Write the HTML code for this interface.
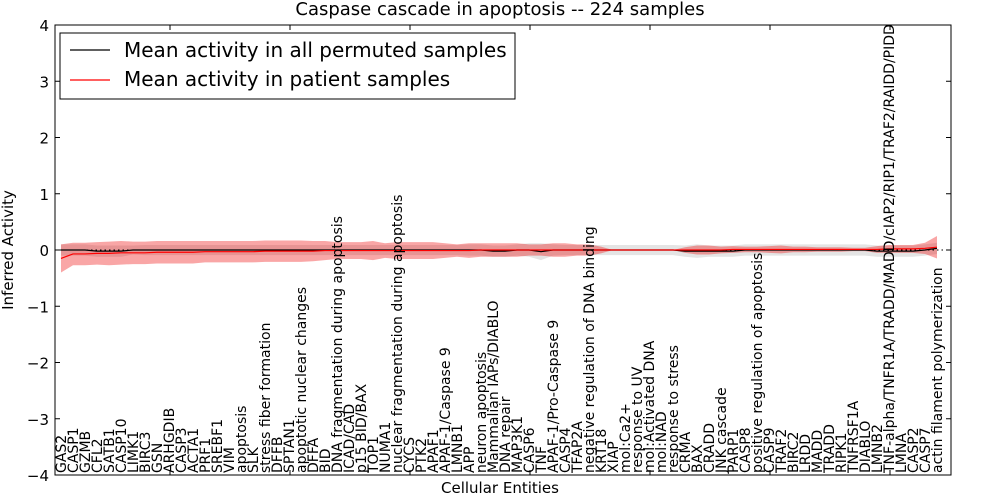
<!DOCTYPE html>
<html><head><meta charset="utf-8"><style>
body{margin:0;background:#fff}
svg{display:block;font-family:"DejaVu Sans","Liberation Sans",sans-serif}
</style></head><body>
<svg id="chart" width="1000" height="500" viewBox="0 0 1000 500">
<rect width="1000" height="500" fill="#fff"/>
<text x="500" y="15" font-size="18" text-anchor="middle">Caspase cascade in apoptosis -- 224 samples</text>
<g id="bands"></g>
<g id="lines"></g>
<g id="axes"></g>
<g id="xlabels"></g>
<text x="500" y="493" font-size="15" text-anchor="middle">Cellular Entities</text>
<text transform="translate(13,250) rotate(-90)" font-size="15" text-anchor="middle">Inferred Activity</text>
<g>
<rect x="60" y="33" width="455" height="66" fill="#fff" stroke="#000" stroke-width="1"/>
<line x1="70" y1="50" x2="110" y2="50" stroke="#000" stroke-width="1.2"/>
<text x="124" y="57" font-size="20">Mean activity in all permuted samples</text>
<line x1="70" y1="80" x2="110" y2="80" stroke="#f00" stroke-width="1.2"/>
<text x="124" y="86" font-size="20">Mean activity in patient samples</text>
</g>
</svg>
<script>
const categories=["GAS2","CASP1","GZMB","CFL2","SATB1","CASP10","LIMK1","BIRC3","GSN","ARHGDIB","CASP3","ACTA1","PRF1","SREBF1","VIM","apoptosis","SLK","stress fiber formation","DFFB","SPTAN1","apoptotic nuclear changes","DFFA","BID","DNA fragmentation during apoptosis","ICAD/CAD","p15 BID/BAX","TOP1","NUMA1","nuclear fragmentation during apoptosis","CYCS","PTK2","APAF1","APAF-1/Caspase 9","LMNB1","APP","neuron apoptosis","Mammalian IAPs/DIABLO","DNA repair","MAP3K1","CASP6","TNF","APAF-1/Pro-Caspase 9","CASP4","TFAP2A","negative regulation of DNA binding","KRT18","XIAP","mol:Ca2+","response to UV","mol:Activated DNA","mol:NAD","response to stress","CRMA","BAX","CRADD","JNK cascade","PARP1","CASP8","positive regulation of apoptosis","CASP9","TRAF2","BIRC2","LRDD","MADD","TRADD","RIPK1","TNFRSF1A","DIABLO","LMNB2","TNF-alpha/TNFR1A/TRADD/MADD/cIAP2/RIP1/TRAF2/RAIDD/PIDD","LMNA","CASP2","CASP7","actin filament polymerization"];
const patientMean=[-0.15,-0.07,-0.07,-0.06,-0.06,-0.05,-0.05,-0.05,-0.04,-0.04,-0.04,-0.04,-0.03,-0.03,-0.03,-0.03,-0.03,-0.02,-0.02,-0.02,-0.02,-0.02,-0.01,-0.01,-0.01,-0.01,-0.01,-0.01,-0.01,-0.01,-0.01,-0.01,-0.01,-0.01,-0.01,0,0,0,0,0,0,0,0,0,0,0,0,0,0,0,0,0,0,0,0,0,0.01,0.01,0.01,0.01,0.01,0.01,0.01,0.01,0.01,0.01,0.01,0.01,0.01,0.02,0.02,0.02,0.03,0.05];
const patientSpread=[0.25,0.2,0.2,0.2,0.21,0.21,0.2,0.2,0.2,0.2,0.2,0.2,0.19,0.19,0.19,0.19,0.19,0.19,0.19,0.19,0.19,0.18,0.17,0.15,0.15,0.15,0.17,0.13,0.15,0.15,0.15,0.15,0.13,0.11,0.13,0.12,0.12,0.12,0.12,0.1,0.1,0.12,0.12,0.1,0.1,0.06,0,0,0,0,0,0,0.05,0.08,0.08,0.06,0.06,0.05,0.05,0.06,0.07,0.05,0.05,0.04,0.04,0.04,0.03,0.03,0.06,0.07,0.07,0.07,0.1,0.2];
const permutedMean=[0,0,0,-0.02,-0.02,-0.02,0,0,0,0,0,0,0,0,0,0,0,0,0,0,0,0,0,0,0,0,0,0,0,0,0,0,0,0,0,0,-0.02,-0.02,0,0,-0.03,0,0,0,0,0,0,0,0,0,0,0,-0.02,-0.02,-0.02,-0.02,-0.02,0,0,0,0,0,0,0,0,0,0,0,-0.02,-0.02,-0.02,-0.02,0,0.03];
const permutedSpread=[0.1,0.1,0.1,0.1,0.1,0.1,0.08,0.09,0.09,0.09,0.09,0.09,0.09,0.09,0.09,0.09,0.09,0.09,0.09,0.09,0.09,0.09,0.09,0.09,0.09,0.09,0.09,0.09,0.09,0.09,0.09,0.09,0.09,0.09,0.1,0.1,0.1,0.1,0.1,0.12,0.15,0.1,0.09,0.09,0.09,0.09,0.09,0.09,0.09,0.09,0.09,0.09,0.1,0.12,0.1,0.1,0.1,0.1,0.1,0.1,0.1,0.1,0.1,0.1,0.1,0.1,0.1,0.1,0.1,0.1,0.1,0.1,0.1,0.1];
const yTicks=[-4,-3,-2,-1,0,1,2,3,4];
const L=55,R=951,T=25,B=475;
const xs=i=>61+(i/(categories.length-1))*(937-61);
const ys=v=>T+(4-v)*(B-T)/8;
const NS="http://www.w3.org/2000/svg";
function mk(tag,attrs,parent){const e=document.createElementNS(NS,tag);for(const k in attrs)e.setAttribute(k,attrs[k]);parent.appendChild(e);return e;}
function band(mean,sp){let up=mean.map((m,i)=>xs(i)+","+ys(m+sp[i]));let dn=mean.map((m,i)=>xs(i)+","+ys(m-sp[i])).reverse();return up.concat(dn).join(" ");}
function line(mean){return mean.map((m,i)=>xs(i)+","+ys(m)).join(" ");}
const bands=document.getElementById('bands');
const gb=mk('polygon',{points:band(permutedMean,permutedSpread),fill:'#bbb','fill-opacity':'0.4'},bands);


const rb=mk('polygon',{points:band(patientMean,patientSpread),fill:'#e00','fill-opacity':'0.35'},bands);


const lines=document.getElementById('lines');
const zl=mk('line',{x1:L,x2:R,y1:ys(0),y2:ys(0),stroke:'#000','stroke-dasharray':'1.5,3','stroke-width':1},lines);


const bl=mk('polyline',{points:line(permutedMean),fill:'none',stroke:'#000','stroke-width':1.2},lines);


const rl=mk('polyline',{points:line(patientMean),fill:'none',stroke:'#f00','stroke-width':1.2},lines);


const axes=document.getElementById('axes');
const fr=mk('rect',{x:L,y:T,width:R-L,height:B-T,fill:'none',stroke:'#000','stroke-width':1},axes);


yTicks.forEach(v=>{const y=ys(v);
mk('line',{x1:L,x2:L+5,y1:y,y2:y,stroke:'#000'},axes);
mk('line',{x1:R,x2:R-5,y1:y,y2:y,stroke:'#000'},axes);
const t=mk('text',{x:L-6,y:y+6,'font-size':15,'text-anchor':'end'},axes);


t.textContent=(v<0?'\u2212':'')+Math.abs(v);});
for(let x=170;x<R;x+=120){mk('line',{x1:x,x2:x,y1:T,y2:T+5,stroke:'#000'},axes);mk('line',{x1:x,x2:x,y1:B,y2:B-5,stroke:'#000'},axes);}
const xl=document.getElementById('xlabels');
categories.forEach((c,i)=>{const x=xs(i)+5;
const t=mk('text',{transform:`translate(${x},${B-2}) rotate(-90)`,'font-size':14},xl);


t.textContent=c;});
</script>
</body></html>
